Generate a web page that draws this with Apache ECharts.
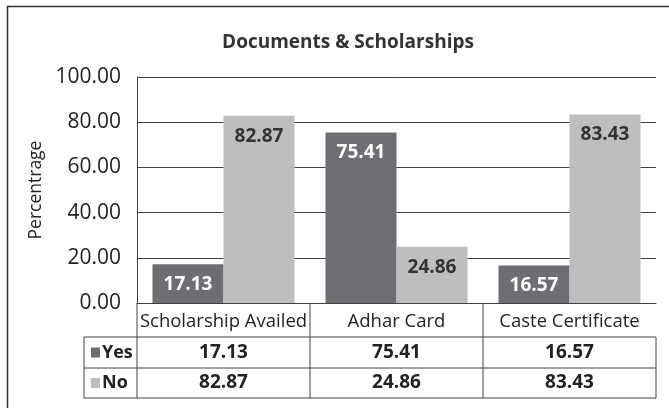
<!DOCTYPE html>
<html>
<head>
<meta charset="utf-8">
<script src="https://cdn.jsdelivr.net/npm/echarts@6/dist/echarts.min.js"></script>
<style>
  html, body { margin: 0; padding: 0; background: #fff; }
  #chart { width: 669px; height: 408px; }
</style>
</head>
<body>
<div id="chart"></div>
<script>
  const categories = ["Scholarship Availed", "Adhar Card", "Caste Certificate"];
  const yesValues = [17.13, 75.41, 16.57];
  const noValues = [82.87, 24.86, 83.43];
  const yTicks = [0, 20, 40, 60, 80, 100];

  const font = "Open Sans";
  const yesColor = "#6d6e71";
  const noColor = "#bcbec0";
  const lineColor = "#404040";

  const myChart = echarts.init(document.getElementById("chart"));

  myChart.setOption({
    animation: false,
    title: {
      text: "Documents & Scholarships",
      left: 343,
      top: 28,
      textAlign: "center",
      textStyle: { fontFamily: font, fontSize: 19, fontWeight: "bold", color: "#333" }
    },
    grid: { left: 137, right: 13, top: 77, bottom: 105 },
    xAxis: {
      type: "category",
      data: categories,
      axisLine: { lineStyle: { color: lineColor } },
      axisTick: { show: false },
      axisLabel: { interval: 0, fontFamily: font, fontSize: 18.5, color: "#222", margin: 9 }
    },
    yAxis: {
      type: "value",
      min: yTicks[0],
      max: yTicks[yTicks.length - 1],
      interval: 20,
      name: "Percentrage",
      nameLocation: "middle",
      nameGap: 88,
      nameTextStyle: { fontFamily: font, fontSize: 17.5, color: "#222" },
      axisLine: { show: true, lineStyle: { color: lineColor } },
      axisTick: { show: false },
      axisLabel: {
        fontFamily: font, fontSize: 21, color: "#222", margin: 16,
        formatter: v => v.toFixed(2)
      },
      splitLine: { lineStyle: { color: lineColor, width: 1 } }
    },
    series: [
      {
        type: "bar",
        name: "Yes",
        data: yesValues,
        barWidth: 71,
        barGap: "0%",
        itemStyle: { color: yesColor },
        label: {
          show: true, position: "insideTop", distance: 11,
          fontFamily: font, fontSize: 19, fontWeight: "bold", color: "#fff",
          formatter: p => p.value.toFixed(2)
        }
      },
      {
        type: "bar",
        name: "No",
        data: noValues,
        barWidth: 71,
        itemStyle: { color: noColor },
        label: {
          show: true, position: "insideTop", distance: 11,
          fontFamily: font, fontSize: 19, fontWeight: "bold", color: "#333",
          formatter: p => p.value.toFixed(2)
        }
      }
    ]
  });

  // data table under the axis
  const x0 = 137, x1 = 656, legendLeft = 84;
  const rowTop = 303, rowHead = 337, rowYes = 368, rowNo = 398;
  const colW = (x1 - x0) / categories.length;
  const stroke = { stroke: lineColor, lineWidth: 1 };
  const g = [];

  // outer frame
  g.push({ type: "rect", shape: { x: 7.5, y: 6.5, width: 700, height: 420 }, style: { fill: null, stroke: "#333", lineWidth: 1.5 }, silent: true });

  // horizontal lines
  g.push({ type: "line", shape: { x1: legendLeft, y1: rowHead, x2: x1, y2: rowHead }, style: stroke });
  g.push({ type: "line", shape: { x1: legendLeft, y1: rowYes, x2: x1, y2: rowYes }, style: stroke });
  g.push({ type: "line", shape: { x1: legendLeft, y1: rowNo, x2: x1, y2: rowNo }, style: stroke });
  // vertical lines
  g.push({ type: "line", shape: { x1: legendLeft, y1: rowHead, x2: legendLeft, y2: rowNo }, style: stroke });
  g.push({ type: "line", shape: { x1: x1, y1: rowHead, x2: x1, y2: rowNo }, style: stroke });
  for (let i = 0; i < categories.length; i++) {
    const x = Math.round(x0 + colW * i);
    g.push({ type: "line", shape: { x1: x, y1: rowTop, x2: x, y2: rowNo }, style: stroke });
  }

  const rows = [
    { name: "Yes", color: yesColor, values: yesValues, y: (rowHead + rowYes) / 2 },
    { name: "No", color: noColor, values: noValues, y: (rowYes + rowNo) / 2 }
  ];
  rows.forEach(r => {
    g.push({ type: "rect", shape: { x: 91, y: r.y - 5, width: 9, height: 10 }, style: { fill: r.color } });
    g.push({
      type: "text", x: 102, y: r.y,
      style: { text: r.name, fontFamily: font, fontSize: 18, fontWeight: "bold", fill: "#222", verticalAlign: "middle", align: "left" }
    });
    r.values.forEach((v, i) => {
      const cx = myChart.convertToPixel({ xAxisIndex: 0 }, categories[i]);
      g.push({
        type: "text", x: cx, y: r.y,
        style: { text: v.toFixed(2), fontFamily: font, fontSize: 19, fontWeight: "bold", fill: "#222", align: "center", verticalAlign: "middle" }
      });
    });
  });

  myChart.setOption({ graphic: g });
</script>
</body>
</html>
